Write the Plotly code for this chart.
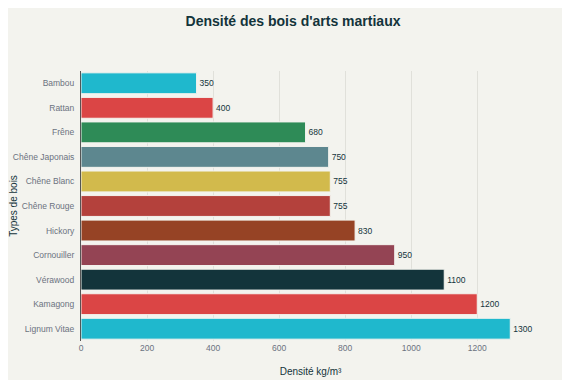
import plotly.graph_objects as go

woods = ["Bambou", "Rattan", "Frêne", "Chêne Japonais", "Chêne Blanc", "Chêne Rouge",
         "Hickory", "Cornouiller", "Vérawood", "Kamagong", "Lignum Vitae"]
density = [350, 400, 680, 750, 755, 755, 830, 950, 1100, 1200, 1300]
colors = ["#1FB8CD", "#DB4545", "#2E8B57", "#5D878F", "#D2BA4C", "#B4413C",
          "#964325", "#944454", "#13343B", "#DB4545", "#1FB8CD"]

fig = go.Figure(go.Bar(
    x=density, y=woods, orientation="h",
    marker=dict(color=colors, line=dict(color="#F3F3EE", width=1)),
    text=[str(v) for v in density], textposition="outside",
    textfont=dict(size=8.5, color="#13343B"), cliponaxis=False,
))

fig.update_layout(
    width=570, height=380,
    paper_bgcolor="#F3F3EE", plot_bgcolor="#F3F3EE",
    font=dict(family="Liberation Sans, Arial, sans-serif", size=10, color="#13343B"),
    title=dict(text="<b>Densité des bois d'arts martiaux</b>", x=0.5, xanchor="center",
               y=1 - 13 / 380, yanchor="middle", font=dict(size=14, color="#13343B")),
    margin=dict(l=73, r=38, t=63, b=47),
    showlegend=False,
    bargap=0.15,
    xaxis=dict(title=dict(text="Densité kg/m³", font=dict(size=10), standoff=16),
               range=[0, 1390], dtick=200, showgrid=True, gridcolor="#E0E0DA",
               zeroline=False, tickfont=dict(size=8.5, color="#6B7280"), ticks="",
               automargin=False),
    yaxis=dict(title=dict(text="Types de bois", font=dict(size=10), standoff=2),
               categoryorder="array", categoryarray=woods, autorange="reversed",
               showline=True, linecolor="#555555", linewidth=1,
               tickfont=dict(size=8.5, color="#6B7280"), ticks="", ticklabelstandoff=4,
               automargin=False),
)

fig.write_html("out.html")
